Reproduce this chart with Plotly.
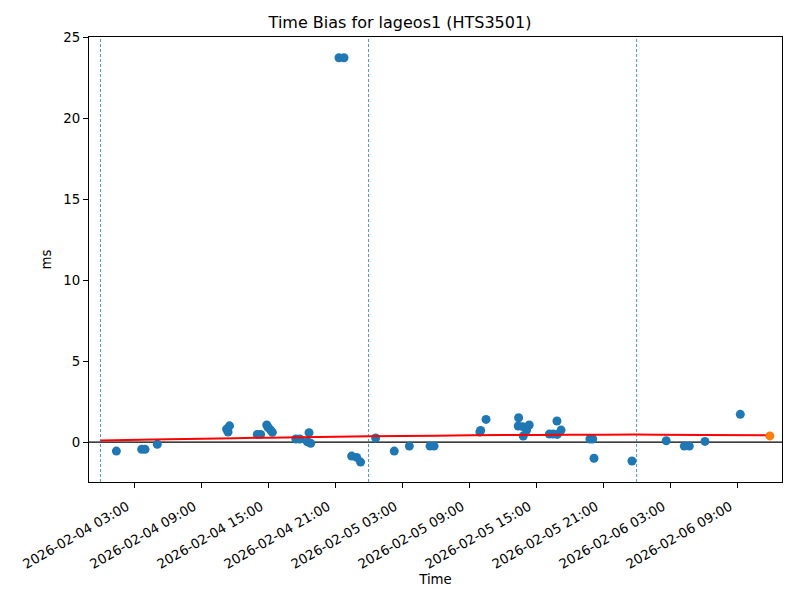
import plotly.graph_objects as go

# ---- data ----
obs_times = [
    "2026-02-04 01:25", "2026-02-04 03:41", "2026-02-04 03:59", "2026-02-04 05:05",
    "2026-02-04 11:17", "2026-02-04 11:25", "2026-02-04 11:33",
    "2026-02-04 14:02", "2026-02-04 14:20", "2026-02-04 14:53", "2026-02-04 15:00",
    "2026-02-04 15:14", "2026-02-04 15:23",
    "2026-02-04 17:29", "2026-02-04 17:50", "2026-02-04 18:31", "2026-02-04 18:40",
    "2026-02-04 18:49",
    "2026-02-04 21:21", "2026-02-04 21:48",
    "2026-02-04 22:29", "2026-02-04 22:56", "2026-02-04 23:17",
    "2026-02-05 00:38", "2026-02-05 02:18", "2026-02-05 03:39", "2026-02-05 05:30",
    "2026-02-05 05:52",
    "2026-02-05 09:58", "2026-02-05 10:02", "2026-02-05 10:31",
    "2026-02-05 13:24", "2026-02-05 13:26", "2026-02-05 13:48", "2026-02-05 13:51",
    "2026-02-05 14:09", "2026-02-05 14:23",
    "2026-02-05 16:11", "2026-02-05 16:32", "2026-02-05 16:52", "2026-02-05 16:54",
    "2026-02-05 17:14",
    "2026-02-05 19:49", "2026-02-05 20:04", "2026-02-05 20:11", "2026-02-05 23:35",
    "2026-02-06 02:39", "2026-02-06 04:16", "2026-02-06 04:43", "2026-02-06 06:07",
    "2026-02-06 09:17",
]
obs_values = [
    -0.56, -0.45, -0.45, -0.14,
    0.80, 0.62, 1.00,
    0.47, 0.47, 1.05, 0.90,
    0.74, 0.60,
    0.19, 0.19, 0.02, 0.58,
    -0.08,
    23.75, 23.75,
    -0.87, -0.95, -1.24,
    0.25, -0.56, -0.25, -0.25,
    -0.25,
    0.62, 0.72, 1.40,
    0.99, 1.50, 0.95, 0.37,
    0.74, 1.05,
    0.49, 0.49, 1.30, 0.47,
    0.74,
    0.19, 0.19, -1.00, -1.17,
    0.08, -0.25, -0.25, 0.04,
    1.71,
]

pred_time = ["2026-02-06 11:56"]
pred_value = [0.38]

fit_times = [
    "2026-02-04 00:00", "2026-02-04 06:00", "2026-02-04 12:00", "2026-02-04 18:00",
    "2026-02-05 00:00", "2026-02-05 06:00", "2026-02-05 12:00", "2026-02-05 18:00",
    "2026-02-06 00:00", "2026-02-06 06:00", "2026-02-06 11:56",
]
fit_values = [0.09, 0.17, 0.24, 0.30, 0.35, 0.39, 0.43, 0.45, 0.46, 0.44, 0.42]

midnights = ["2026-02-04 00:00", "2026-02-05 00:00", "2026-02-06 00:00"]

tick_vals = [
    "2026-02-04 03:00", "2026-02-04 09:00", "2026-02-04 15:00", "2026-02-04 21:00",
    "2026-02-05 03:00", "2026-02-05 09:00", "2026-02-05 15:00", "2026-02-05 21:00",
    "2026-02-06 03:00", "2026-02-06 09:00",
]
tick_text = tick_vals
x_range = ["2026-02-03 22:58", "2026-02-06 13:01"]
y_range = [-2.47, 25.03]

# ---- figure ----
fig = go.Figure()

fig.add_trace(go.Scatter(
    x=obs_times, y=obs_values, mode="markers",
    marker=dict(color="#1f77b4", size=9, line=dict(width=0)),
    showlegend=False,
))
fig.add_trace(go.Scatter(
    x=fit_times, y=fit_values, mode="lines", line_shape="spline",
    line=dict(color="red", width=2),
    showlegend=False,
))
fig.add_trace(go.Scatter(
    x=pred_time, y=pred_value, mode="markers",
    marker=dict(color="#ff7f0e", size=9, line=dict(width=0)),
    showlegend=False,
))

# zero line
fig.add_hline(y=0, line=dict(color="black", width=1.2), layer="below")
for m in midnights:
    fig.add_shape(type="line", x0=m, x1=m, xref="x", y0=0, y1=1, yref="paper",
                  line=dict(color="#1f77b4", width=0.8, dash="3px,2px"), layer="below")

axis_common = dict(
    showline=True, linecolor="black", linewidth=1, mirror=True,
    ticks="outside", ticklen=5, tickcolor="black", tickwidth=1,
    showgrid=False, zeroline=False,
    tickfont=dict(family="DejaVu Sans", size=13.33, color="black"),
)

fig.update_layout(
    width=800, height=600,
    margin=dict(l=89, r=18, t=37, b=118, autoexpand=False),
    paper_bgcolor="white", plot_bgcolor="white",
    font=dict(family="DejaVu Sans", color="black"),
    title=dict(text="Time Bias for lageos1 (HTS3501)", x=0.5, xanchor="center",
               y=1 - 22 / 600, yanchor="middle",
               font=dict(family="DejaVu Sans", size=16, color="black")),
    xaxis=dict(type="date", range=x_range, tickvals=tick_vals, ticktext=tick_text,
               tickangle=-30, ticklabelshift=-7, ticklabelstandoff=6,
               title=dict(text="Time", font=dict(family="DejaVu Sans", size=13.33), standoff=3),
               **axis_common),
    yaxis=dict(range=y_range, tickvals=[0, 5, 10, 15, 20, 25],
               title=dict(text="ms", font=dict(family="DejaVu Sans", size=13.33), standoff=8),
               **axis_common),
)

fig.write_html("out.html", config={"displayModeBar": False},
               post_script="document.body.style.margin='0';document.body.style.overflow='hidden';")
